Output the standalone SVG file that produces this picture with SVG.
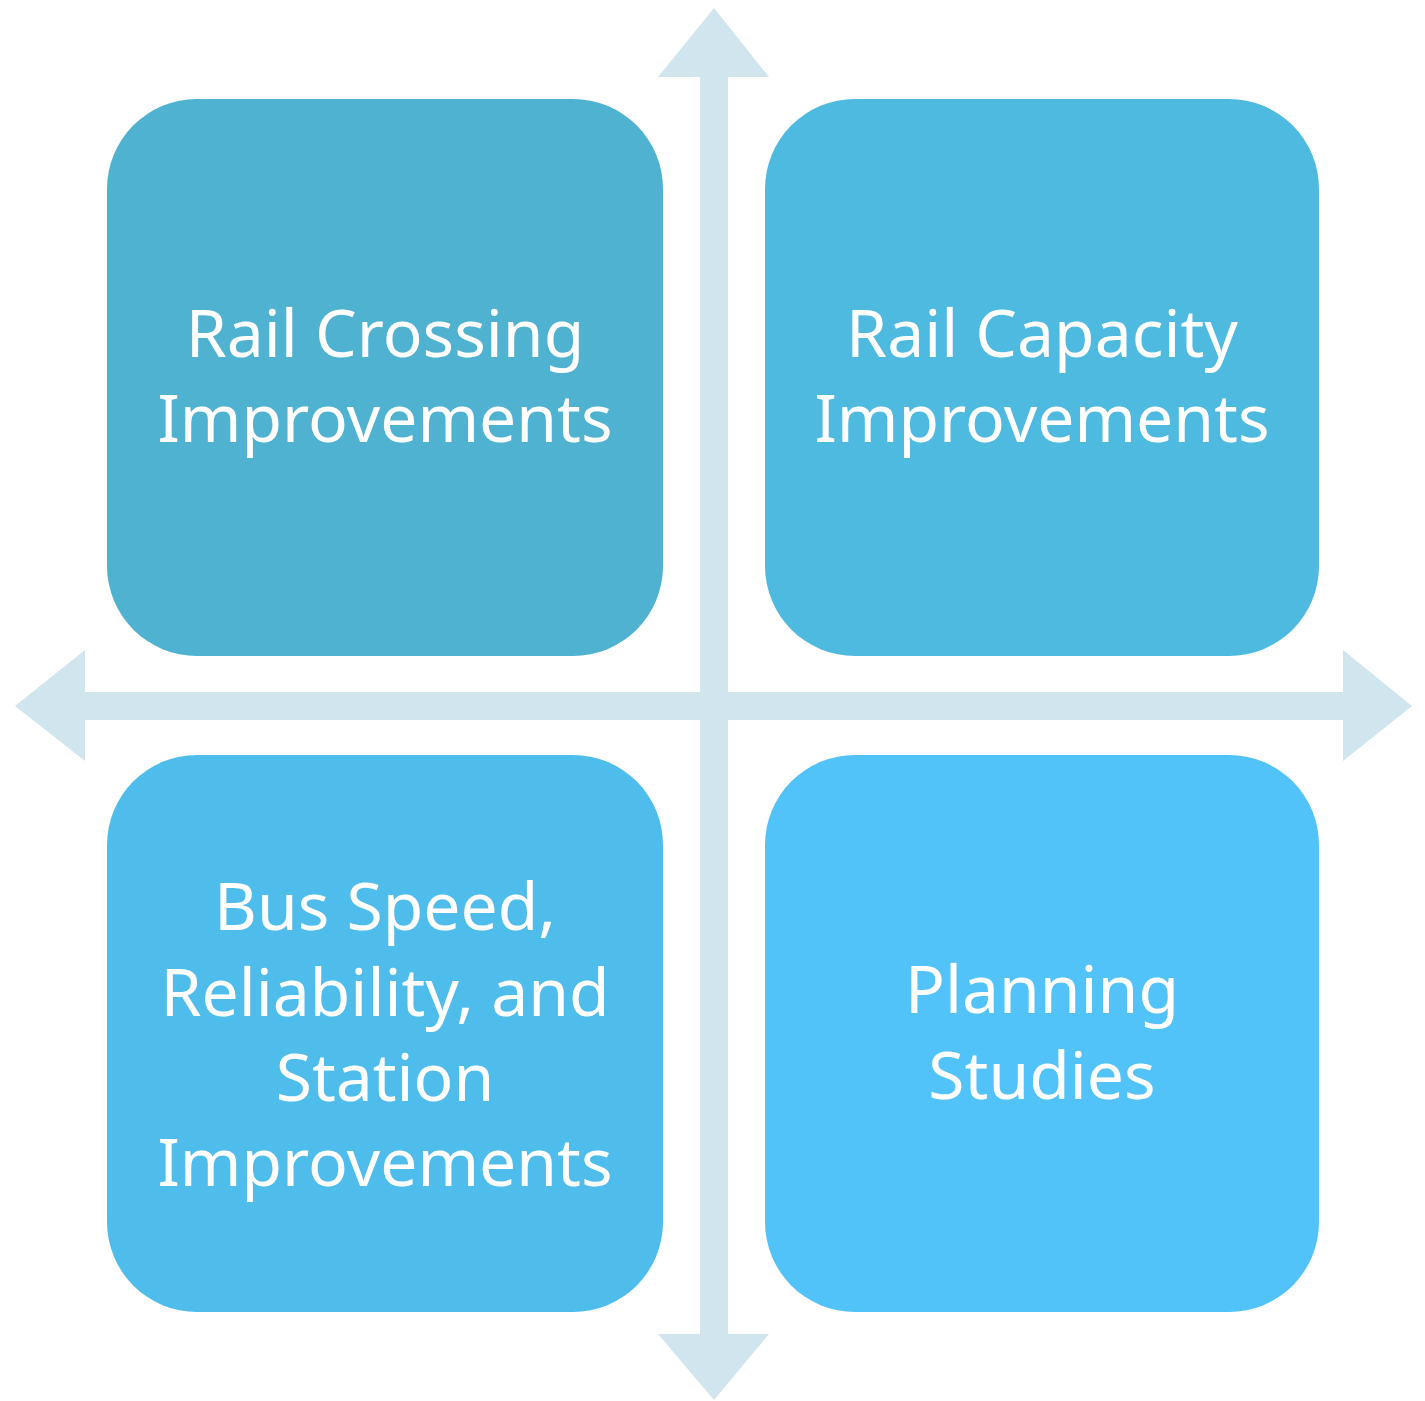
<svg xmlns="http://www.w3.org/2000/svg" width="1425" height="1401" viewBox="0 0 1425 1401">
  <style>
    .axis { fill: #D1E5EE; }
    .box-label { font-family: "Noto Sans", "Open Sans", "Liberation Sans", sans-serif; font-size: 66px; fill: #FFFFFF; text-anchor: middle; }
  </style>
  <rect width="1425" height="1401" fill="#FFFFFF"/>

  <!-- double-headed axes -->
  <g id="connectors">
    <path class="axis" d="M714,8 L769,77 L728,77 L728,1334 L769,1334 L714,1400 L658,1334 L700,1334 L700,77 L658,77 Z"/>
    <path class="axis" d="M15,706 L85,650 L85,692 L1343,692 L1343,650 L1412,706 L1343,761 L1343,720 L85,720 L85,761 Z"/>
  </g>

  <g id="rail-crossing">
    <rect x="107" y="99" width="556" height="557" rx="90" ry="90" fill="#4FB2D1"/>
    <text class="box-label" x="385" y="357">Rail Crossing</text>
    <text class="box-label" x="385" y="442">Improvements</text>
  </g>

  <g id="rail-capacity">
    <rect x="765" y="99" width="554" height="557" rx="90" ry="90" fill="#4EBAE0"/>
    <text class="box-label" x="1042" y="357">Rail Capacity</text>
    <text class="box-label" x="1042" y="442">Improvements</text>
  </g>

  <g id="bus-speed">
    <rect x="107" y="755" width="556" height="557" rx="90" ry="90" fill="#4FBDEC"/>
    <text class="box-label" x="385" y="930">Bus Speed,</text>
    <text class="box-label" x="385" y="1016">Reliability, and</text>
    <text class="box-label" x="385" y="1101">Station</text>
    <text class="box-label" x="385" y="1186">Improvements</text>
  </g>

  <g id="planning-studies">
    <rect x="765" y="755" width="554" height="557" rx="90" ry="90" fill="#52C3F8"/>
    <text class="box-label" x="1042" y="1013">Planning</text>
    <text class="box-label" x="1042" y="1099">Studies</text>
  </g>
</svg>
